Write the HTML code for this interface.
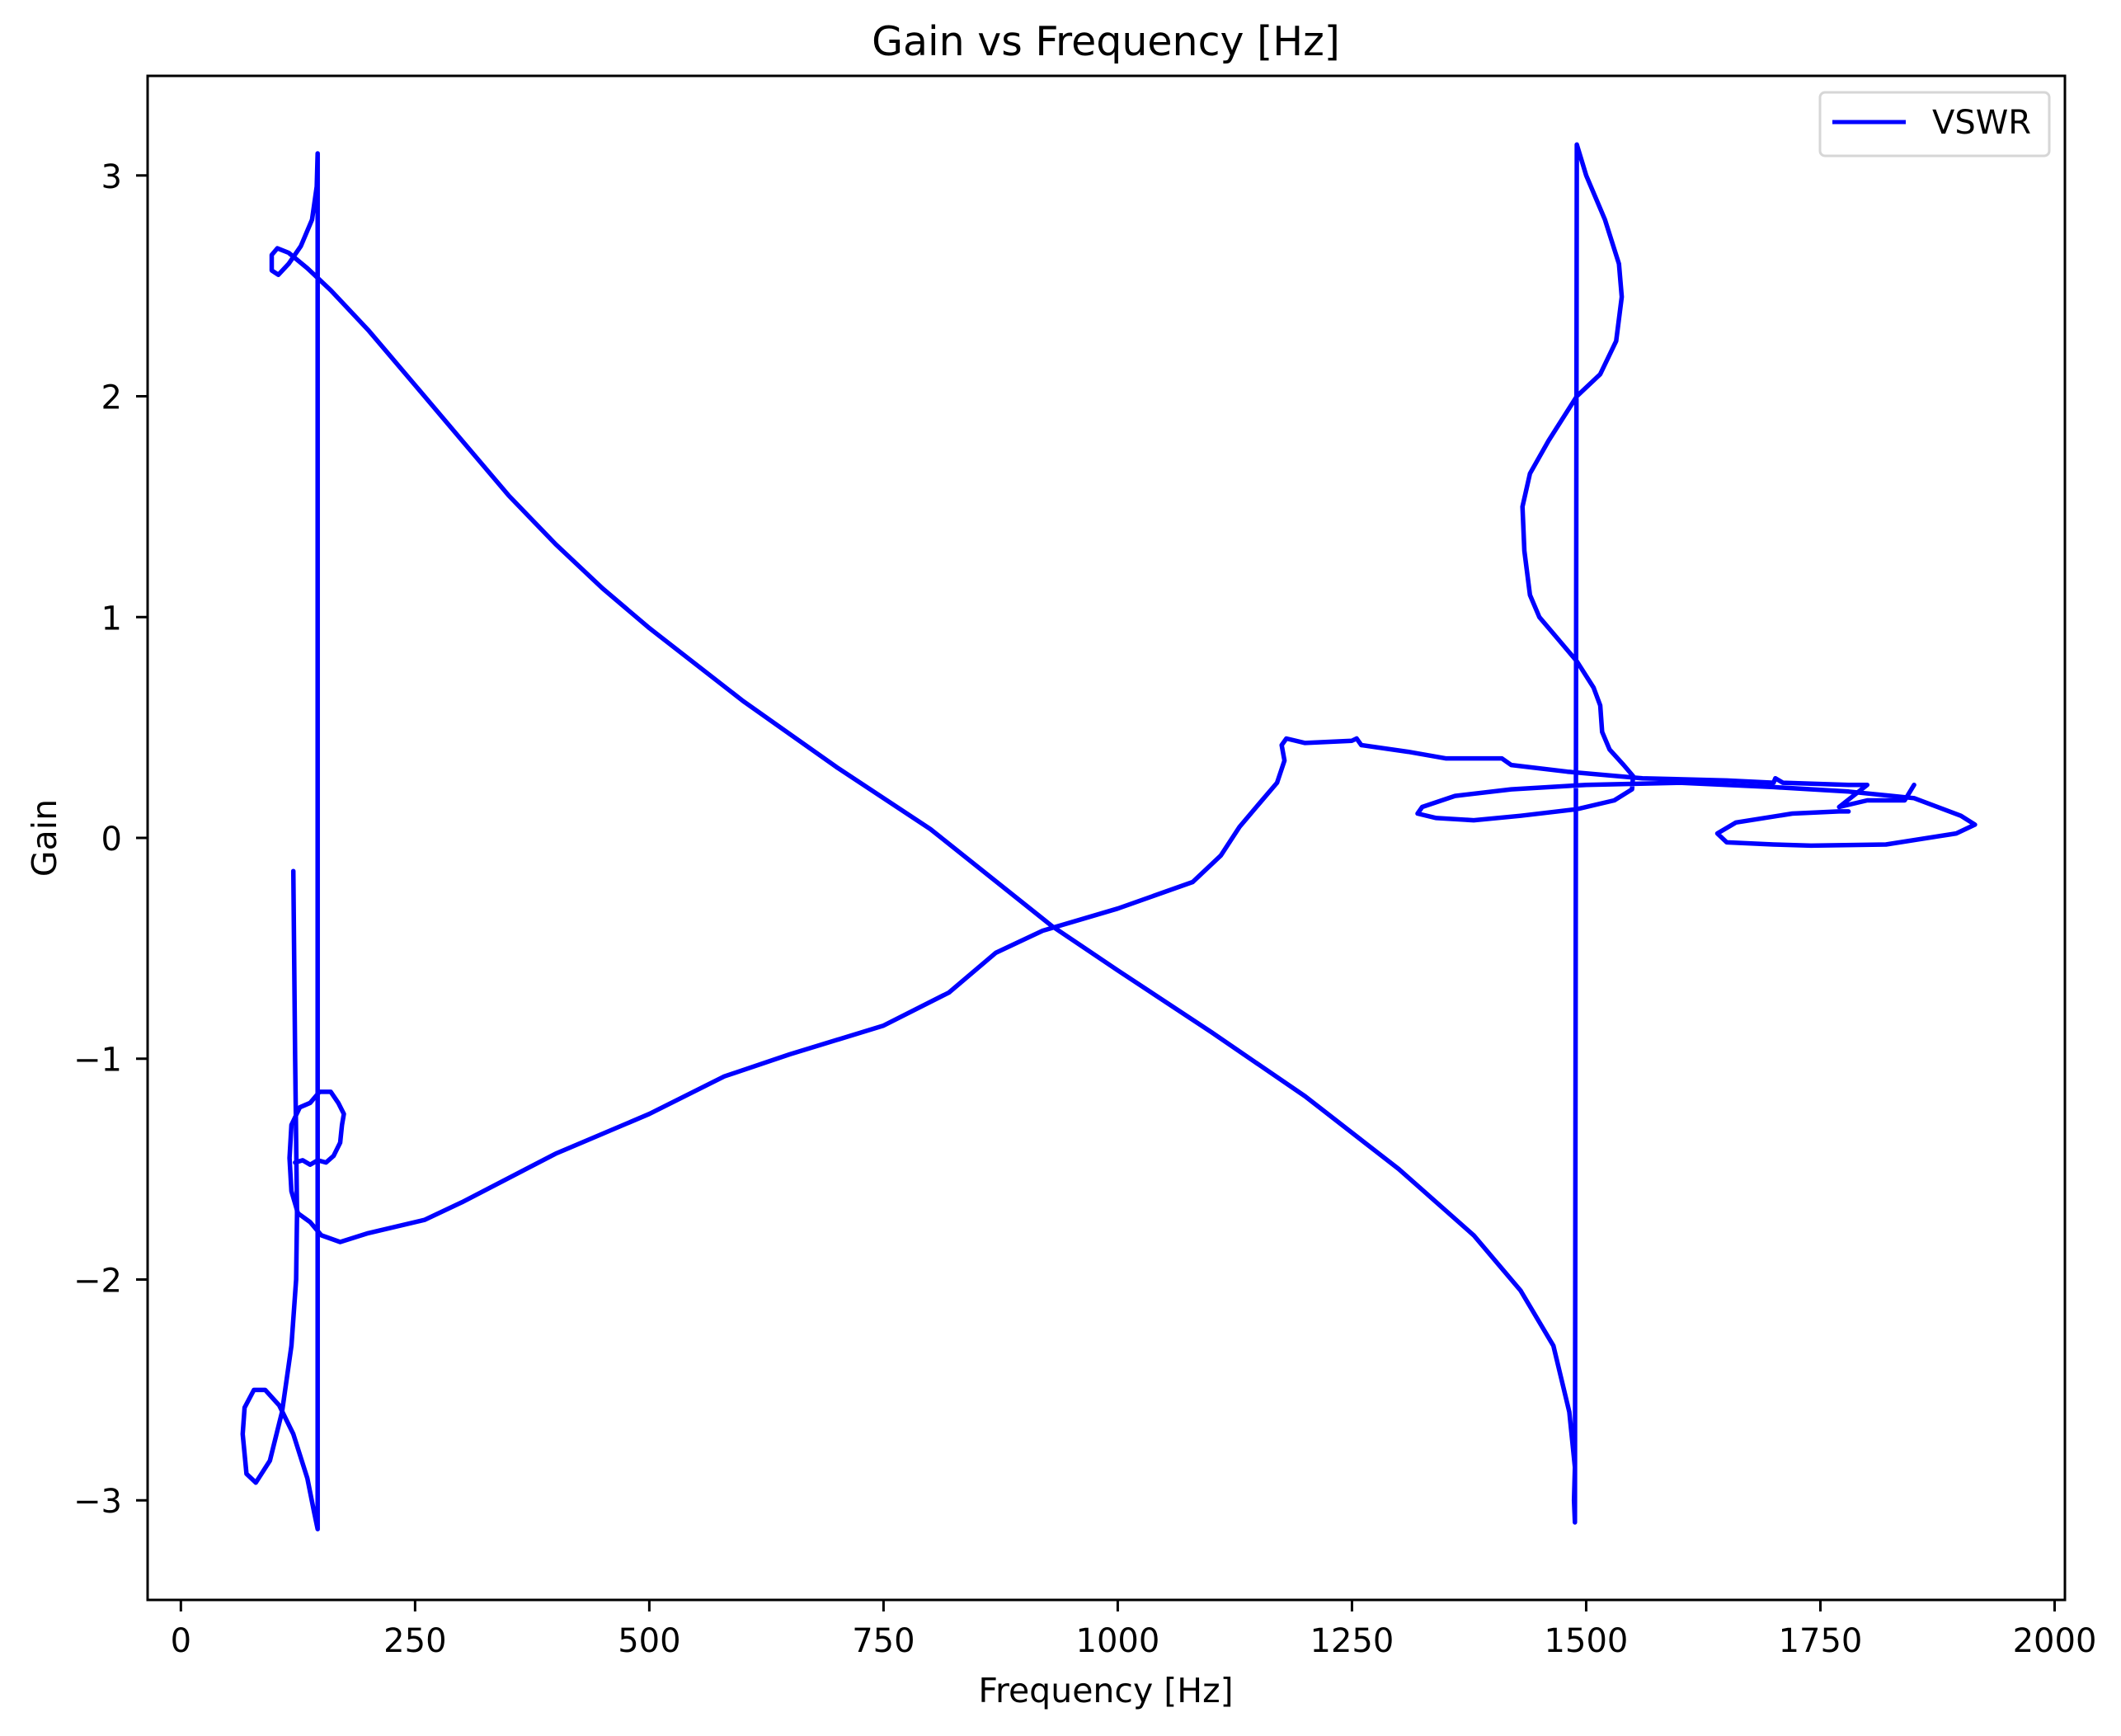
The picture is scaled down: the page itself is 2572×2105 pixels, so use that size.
<!DOCTYPE html>
<html><head><meta charset="utf-8"><style>
html,body{margin:0;padding:0;background:#fff;}
svg text{font-family:"DejaVu Sans","Liberation Sans",sans-serif;fill:#000;}
</style></head><body>
<svg id="chart" width="2572" height="2100" viewBox="0 0 2572 2100" xmlns="http://www.w3.org/2000/svg">
<rect x="0" y="0" width="2572" height="2100" fill="#fff"/>
<text x="1341" y="67" font-size="49" text-anchor="middle">Gain vs Frequency [Hz]</text>
<g id="plot"></g>
<g id="axes"></g>
<text x="1341" y="2064" font-size="41" text-anchor="middle">Frequency [Hz]</text>
<text x="0" y="0" font-size="41" text-anchor="middle" transform="translate(68,1016) rotate(-90)">Gain</text>
<g>
<rect x="2207" y="112" width="278" height="77" rx="6" fill="#fff" fill-opacity="0.8" stroke="#d6d6d6" stroke-width="3"/>
<line x1="2222" y1="148" x2="2311" y2="148" stroke="#0000ff" stroke-width="5"/>
<text x="2343" y="162" font-size="40">VSWR</text>
</g>
</svg>
<script>
const xTicks = [0, 250, 500, 750, 1000, 1250, 1500, 1750, 2000];
const yTicks = [-3, -2, -1, 0, 1, 2, 3];
const yTickLabels = ["\u22123", "\u22122", "\u22121", "0", "1", "2", "3"];
const seriesAFreq = [120,122,124,123,118,108,95,80,70,66,68,78,90,105,120,135,142,146,146,145,140,128,115,104,97,97,103,115,135,160,200,250,300,350,400,450,500,600,700,800,930,1000,1100,1200,1300,1380,1430,1465,1482,1488,1487,1488,1490,1500,1520,1535,1538,1532,1515,1490,1460,1440,1432,1434,1440,1450,1470,1490,1508,1515,1517,1525,1540,1550,1549,1530,1490,1430,1380,1340,1320,1325,1360,1420,1500,1600,1700,1780,1850,1900,1915,1895,1820,1740,1700,1650,1640,1660,1720,1770,1780];
const seriesAGain = [-0.15,-1.0,-1.7,-2.0,-2.3,-2.6,-2.82,-2.92,-2.88,-2.7,-2.58,-2.5,-2.5,-2.57,-2.7,-2.9,-3.05,-3.13,3.1,2.95,2.8,2.68,2.6,2.55,2.57,2.64,2.67,2.65,2.58,2.48,2.3,2.05,1.8,1.55,1.33,1.13,0.95,0.62,0.32,0.04,-0.4,-0.6,-0.88,-1.17,-1.5,-1.8,-2.05,-2.3,-2.6,-2.85,-3.0,-3.1,3.14,3.0,2.8,2.6,2.45,2.25,2.1,2.0,1.8,1.65,1.5,1.3,1.1,1.0,0.9,0.8,0.68,0.6,0.48,0.4,0.33,0.28,0.22,0.17,0.13,0.1,0.08,0.09,0.11,0.14,0.19,0.22,0.24,0.25,0.23,0.21,0.18,0.1,0.06,0.02,-0.03,-0.035,-0.03,-0.02,0.02,0.07,0.11,0.12,0.12];
const seriesBFreq = [122,130,138,146,155,163,170,172,174,168,160,148,138,127,118,116,118,125,138,150,170,200,260,300,400,500,580,650,750,820,870,920,1000,1080,1110,1130,1150,1170,1178,1175,1180,1200,1250,1255,1260,1310,1350,1410,1420,1480,1560,1650,1700,1702,1710,1780,1800,1770,1800,1840,1850];
const seriesBGain = [-1.47,-1.46,-1.48,-1.46,-1.47,-1.44,-1.38,-1.3,-1.25,-1.2,-1.15,-1.15,-1.2,-1.22,-1.3,-1.45,-1.6,-1.7,-1.74,-1.8,-1.83,-1.79,-1.73,-1.65,-1.43,-1.25,-1.08,-0.98,-0.85,-0.7,-0.52,-0.42,-0.32,-0.2,-0.08,0.05,0.15,0.25,0.35,0.42,0.45,0.43,0.44,0.45,0.42,0.39,0.36,0.36,0.33,0.3,0.27,0.26,0.25,0.27,0.25,0.24,0.24,0.14,0.17,0.17,0.24];

const L = 179, R = 2504, T = 92, B = 1940;
const xMin = -35.5, xMax = 2011, yMin = -3.451, yMax = 3.451;
function sx(v){ return L + (v - xMin) / (xMax - xMin) * (R - L); }
function sy(v){ return B - (v - yMin) / (yMax - yMin) * (B - T); }
const NS = "http://www.w3.org/2000/svg";
const plot = document.getElementById('plot');
const axes = document.getElementById('axes');

function drawSeries(fs, gs, name){
  const pts = fs.map((f,i)=> sx(f).toFixed(1)+','+sy(gs[i]).toFixed(1)).join(' ');
  const pl = document.createElementNS(NS,'polyline');
  pl.setAttribute('points', pts);
  pl.setAttribute('fill','none');
  pl.setAttribute('stroke','#0000ff');
  pl.setAttribute('stroke-width','5.5');
  pl.setAttribute('stroke-linejoin','round');
  pl.setAttribute('stroke-linecap','round');
  
  
  plot.appendChild(pl);
}
drawSeries(seriesAFreq, seriesAGain, 'vswr-line-main');
drawSeries(seriesBFreq, seriesBGain, 'vswr-line-secondary');

const frame = document.createElementNS(NS,'rect');
frame.setAttribute('x', L); frame.setAttribute('y', T);
frame.setAttribute('width', R-L); frame.setAttribute('height', B-T);
frame.setAttribute('fill','none'); frame.setAttribute('stroke','#000'); frame.setAttribute('stroke-width','3');


axes.appendChild(frame);

xTicks.forEach(v=>{
  const x = sx(v);
  const t = document.createElementNS(NS,'line');
  t.setAttribute('x1',x); t.setAttribute('x2',x); t.setAttribute('y1',B); t.setAttribute('y2',B+14);
  t.setAttribute('stroke','#000'); t.setAttribute('stroke-width','3');
  
  
  axes.appendChild(t);
  const lb = document.createElementNS(NS,'text');
  lb.setAttribute('x',x); lb.setAttribute('y',2003); lb.setAttribute('font-size','40'); lb.setAttribute('text-anchor','middle');
  lb.textContent = String(v);
  
  
  axes.appendChild(lb);
});
yTicks.forEach((v,i)=>{
  const y = sy(v);
  const t = document.createElementNS(NS,'line');
  t.setAttribute('x1',L-14); t.setAttribute('x2',L); t.setAttribute('y1',y); t.setAttribute('y2',y);
  t.setAttribute('stroke','#000'); t.setAttribute('stroke-width','3');
  
  
  axes.appendChild(t);
  const lb = document.createElementNS(NS,'text');
  lb.setAttribute('x',148); lb.setAttribute('y',y+15); lb.setAttribute('font-size','40'); lb.setAttribute('text-anchor','end');
  lb.textContent = yTickLabels[i];
  
  
  axes.appendChild(lb);
});
</script>
</body></html>
